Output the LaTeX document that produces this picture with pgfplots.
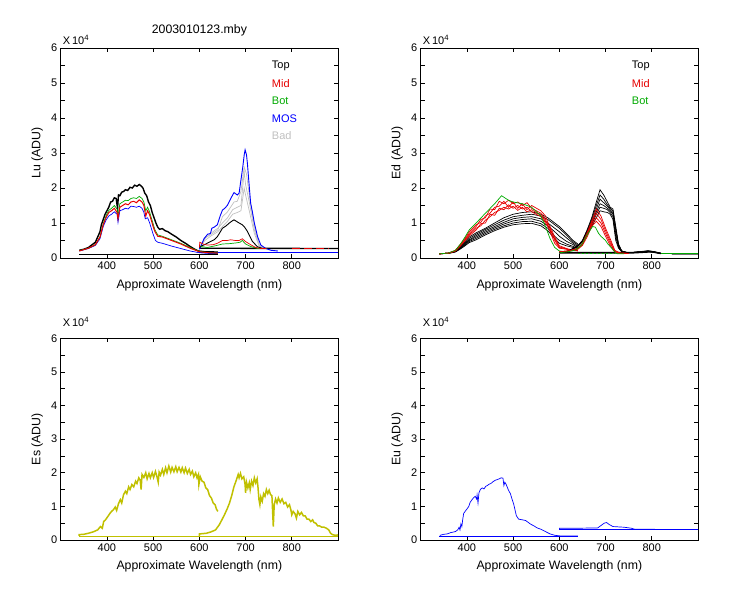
\documentclass[border=0pt]{standalone}
\usepackage{fontspec}
\setmainfont{Liberation Sans}
\usepackage{pgfplots}
\usepackage{pgfplotstable}
\pgfplotsset{compat=1.18}

\definecolor{cred}{RGB}{230,0,0}
\definecolor{cgreen}{RGB}{0,170,0}
\definecolor{cblue}{RGB}{0,0,255}
\definecolor{cgray}{RGB}{192,192,192}
\definecolor{colive}{RGB}{192,192,0}
\newcommand\fs{\fontsize{11bp}{13bp}\selectfont}
\newcommand\fl{\fontsize{12.3bp}{14bp}\selectfont}

% Ed, blue sensor, black (Top) casts
\pgfplotstableread{
x    b1   b2   b3   b4   b5   b6
340  0.12 0.12 0.12 0.12 0.12 0.12
360  0.14 0.14 0.14 0.14 0.13 0.13
375  0.20 0.20 0.19 0.18 0.18 0.17
385  0.32 0.30 0.28 0.27 0.26 0.25
395  0.45 0.42 0.40 0.38 0.36 0.34
405  0.60 0.56 0.52 0.50 0.47 0.44
420  0.72 0.68 0.64 0.60 0.56 0.52
440  0.85 0.82 0.78 0.74 0.70 0.66
460  1.00 0.95 0.90 0.86 0.82 0.78
480  1.15 1.08 1.02 0.97 0.92 0.88
500  1.25 1.18 1.12 1.06 1.00 0.95
520  1.30 1.22 1.16 1.10 1.04 0.98
540  1.32 1.25 1.18 1.12 1.05 0.99
560  1.25 1.20 1.12 1.05 0.98 0.92
575  1.15 1.10 1.00 0.92 0.85 0.78
590  1.00 0.95 0.85 0.75 0.62 0.55
600  0.90 0.85 0.75 0.62 0.50 0.42
615  0.70 0.66 0.58 0.48 0.40 0.35
630  0.50 0.46 0.42 0.38 0.33 0.30
640  0.40 0.37 0.33 0.30 0.28 0.26
}\EdAblack

% Ed, blue sensor, red (Mid) casts
\pgfplotstableread{
x    r1   r2   r3   r4
340  0.12 0.12 0.12 0.12
360  0.14 0.14 0.14 0.13
375  0.22 0.21 0.20 0.20
385  0.38 0.36 0.34 0.33
395  0.55 0.52 0.50 0.48
405  0.75 0.70 0.66 0.63
420  0.95 0.90 0.85 0.80
430  1.02 1.10 0.92 0.98
440  1.20 1.15 1.08 1.00
450  1.28 1.40 1.18 1.25
460  1.45 1.38 1.30 1.22
470  1.48 1.62 1.36 1.42
480  1.62 1.55 1.45 1.38
490  1.45 1.65 1.40 1.52
500  1.60 1.55 1.48 1.42
510  1.42 1.60 1.36 1.50
520  1.55 1.50 1.45 1.40
530  1.38 1.58 1.32 1.45
540  1.50 1.42 1.38 1.32
560  1.35 1.28 1.22 1.18
570  1.20 1.10 1.05 1.00
580  0.85 0.75 0.90 0.80
590  0.50 0.42 0.60 0.55
600  0.30 0.28 0.35 0.32
620  0.25 0.24 0.25 0.24
640  0.22 0.21 0.22 0.20
}\EdAred

% Ed, red sensor, black (Top) casts
\pgfplotstableread{
x    k1   k2   k3   k4   k5   k6
600  0.15 0.15 0.15 0.15 0.15 0.15
620  0.20 0.20 0.20 0.20 0.20 0.20
640  0.35 0.35 0.35 0.34 0.34 0.33
650  0.50 0.50 0.49 0.48 0.47 0.46
660  0.80 0.78 0.75 0.72 0.70 0.67
670  1.15 1.10 1.05 1.00 0.95 0.90
680  1.60 1.50 1.40 1.32 1.25 1.15
688  1.95 1.80 1.68 1.55 1.45 1.35
696  1.80 1.68 1.58 1.50 1.42 1.32
704  1.60 1.52 1.48 1.42 1.38 1.30
710  1.45 1.42 1.38 1.35 1.30 1.25
716  1.40 1.35 1.30 1.25 1.18 1.10
722  0.90 0.85 0.80 0.70 0.60 0.50
728  0.40 0.38 0.35 0.32 0.30 0.28
735  0.20 0.20 0.20 0.19 0.18 0.18
745  0.16 0.16 0.16 0.16 0.16 0.16
760  0.16 0.16 0.16 0.16 0.16 0.16
780  0.19 0.18 0.18 0.18 0.17 0.17
792  0.21 0.20 0.20 0.19 0.19 0.18
805  0.18 0.18 0.17 0.17 0.16 0.16
820  0.13 0.13 0.13 0.13 0.13 0.13
860  0.12 0.12 0.12 0.12 0.12 0.12
900  0.12 0.12 0.12 0.12 0.12 0.12
}\EdBblack

% Ed, red sensor, red (Mid) casts
\pgfplotstableread{
x    r1   r2   r3   r4
600  0.18 0.18 0.18 0.18
620  0.20 0.20 0.20 0.20
640  0.28 0.27 0.26 0.25
650  0.42 0.40 0.38 0.36
660  0.72 0.68 0.64 0.60
670  1.05 1.00 0.95 0.90
680  1.40 1.28 1.15 1.05
690  1.20 1.10 1.00 0.90
700  0.85 0.78 0.70 0.62
710  0.55 0.48 0.42 0.36
720  0.22 0.20 0.18 0.17
730  0.15 0.14 0.14 0.13
750  0.13 0.13 0.13 0.13
}\EdBred

\pgfplotsset{
  panel/.style={
    scale only axis, width=277.3bp,
    xmin=300, xmax=900, ymin=0, ymax=6,
    xtick={400,500,600,700,800},
    ytick={0,1,2,3,4,5,6},
    minor ytick={0.5,1.5,2.5,3.5,4.5,5.5},
    major tick length=4bp, minor tick length=4bp,
    tick style={black, line width=0.8bp},
    axis line style={line width=0.8bp},
    tick label style={font=\fs},
    label style={font=\fl},
    /pgf/number format/assume math mode=true,
    xlabel={Approximate Wavelength (nm)},
    every axis plot/.append style={line width=0.7bp, mark=none},
  },
  toprow/.style={panel, height=210bp,
    xlabel style={at={(axis description cs:0.5,-0.132)}, anchor=center},
    ylabel style={at={(axis description cs:-0.085,0.5)}, anchor=center}},
  botrow/.style={panel, height=201.7bp,
    xlabel style={at={(axis description cs:0.5,-0.132)}, anchor=center},
    ylabel style={at={(axis description cs:-0.085,0.5)}, anchor=center}},
}

\begin{document}
\begin{tikzpicture}
\path[use as bounding box] (0,0) rectangle (750bp,600bp);

% ---------------- Lu ----------------
\begin{axis}[toprow, at={(60.7bp,342bp)}, anchor=south west, ylabel={Lu (ADU)}]
% baselines
\addplot[black, line width=1.2bp] coordinates {(340,0.11) (640,0.11)};
\addplot[black, line width=1.4bp] coordinates {(600,0.28) (900,0.27)};
\addplot[cblue] coordinates {(600,0.15) (900,0.15)};
% blue sensor
\addplot[black, line width=1.4bp] coordinates {
(340,0.22)(350,0.25)(360,0.3)(370,0.4)(375,0.45)(380,0.6)(385,0.75)(388,0.95)(392,1.1)
(396,1.25)(400,1.35)(404,1.45)(408,1.6)(412,1.62)(416,1.72)(420,1.7)(423,1.42)(425,1.8)
(428,1.78)(432,1.88)(436,1.9)(440,1.95)(445,1.93)(450,2.02)(455,2.0)(460,2.08)(465,2.05)
(470,2.1)(474,2.06)(478,2.0)(482,1.85)(486,1.78)(490,1.6)(494,1.5)(498,1.3)(502,1.15)
(506,1.0)(510,0.88)(514,0.82)(520,0.84)(526,0.78)(532,0.75)(540,0.68)(550,0.6)(560,0.5)
(570,0.42)(580,0.33)(590,0.25)(598,0.2)(610,0.18)(640,0.17)};
\addplot[cblue] coordinates {
(340,0.2)(360,0.27)(375,0.36)(385,0.55)(392,0.9)(398,1.08)(404,1.2)(410,1.25)(416,1.32)
(422,1.25)(424,1.02)(428,1.35)(434,1.38)(440,1.42)(446,1.4)(452,1.48)(458,1.47)(464,1.45)
(470,1.48)(476,1.42)(480,1.3)(483,1.12)(488,1.15)(492,1.02)(496,0.85)(500,0.68)(505,0.5)
(510,0.45)(520,0.42)(530,0.38)(540,0.34)(560,0.27)(580,0.2)(600,0.15)(620,0.13)(640,0.13)};
\addplot[cgreen] coordinates {
(340,0.21)(360,0.28)(375,0.38)(385,0.6)(392,0.98)(398,1.2)(404,1.36)(410,1.42)(416,1.5)
(422,1.4)(424,1.2)(428,1.55)(434,1.6)(440,1.65)(446,1.64)(452,1.7)(458,1.72)(464,1.7)
(470,1.76)(476,1.7)(480,1.6)(484,1.35)(488,1.45)(492,1.33)(496,1.15)(500,0.98)(504,0.8)
(510,0.66)(520,0.62)(530,0.57)(540,0.52)(560,0.42)(580,0.3)(600,0.19)(620,0.15)(640,0.14)};
\addplot[cred, line width=1bp] coordinates {
(340,0.2)(360,0.28)(375,0.38)(385,0.6)(392,0.95)(398,1.15)(404,1.3)(410,1.35)(416,1.42)
(422,1.3)(424,1.12)(428,1.45)(434,1.5)(440,1.55)(446,1.52)(452,1.6)(458,1.62)(464,1.58)
(470,1.66)(476,1.6)(480,1.5)(484,1.2)(488,1.35)(492,1.25)(496,1.08)(500,0.9)(504,0.75)
(510,0.62)(520,0.6)(530,0.55)(540,0.5)(560,0.4)(580,0.28)(600,0.18)(620,0.15)(640,0.14)};
% red sensor
\addplot[cgray] coordinates {
(600,0.3)(612,0.5)(624,0.62)(640,0.75)(650,0.9)(661,1.05)(672,1.25)(682,1.3)(690,1.35)
(697,2.0)(700,1.8)(708,1.35)(719,0.7)(730,0.32)(745,0.27)};
\addplot[cgray] coordinates {
(600,0.3)(612,0.55)(624,0.7)(640,0.85)(650,1.0)(661,1.15)(672,1.38)(682,1.45)(690,1.5)
(697,2.47)(700,2.1)(708,1.6)(719,0.8)(730,0.34)(745,0.27)};
\addplot[cgray] coordinates {
(600,0.3)(612,0.58)(624,0.66)(640,0.8)(650,1.18)(661,1.32)(675,1.6)(682,1.62)(690,1.9)
(697,2.6)(702,2.4)(708,1.8)(719,0.9)(730,0.36)(745,0.27)};
\addplot[cblue, line width=0.9bp] coordinates {
(600,0.25)(603,0.32)(610,0.55)(618,0.68)(624,0.7)(627,0.85)(632,0.88)(639,0.95)(645,1.2)
(650,1.37)(655,1.42)(661,1.51)(668,1.7)(675,1.87)(682,1.8)(686,1.85)(690,2.23)(694,2.6)
(697,2.94)(699,3.09)(702,2.95)(704,2.7)(708,2.04)(711,1.57)(715,1.3)(719,1.0)(726,0.61)
(733,0.37)(744,0.27)(755,0.22)(770,0.2)};
\addplot[black, line width=0.9bp] coordinates {
(600,0.3)(603,0.33)(614,0.4)(624,0.47)(632,0.52)(639,0.61)(650,0.85)(658,0.92)(665,1.0)
(670,1.05)(675,1.09)(680,1.05)(686,1.0)(693,0.95)(698,0.88)(704,0.76)(710,0.6)(715,0.47)
(726,0.32)(735,0.28)(745,0.27)};
\addplot[cgreen] coordinates {
(603,0.33)(617,0.3)(635,0.35)(650,0.4)(665,0.41)(679,0.43)(688,0.45)(693,0.5)(700,0.4)
(711,0.33)(726,0.27)(745,0.27)};
\addplot[cred] coordinates {
(600,0.3)(601,0.45)(608,0.4)(617,0.37)(630,0.38)(639,0.42)(650,0.5)(660,0.5)(668,0.52)
(678,0.5)(686,0.5)(693,0.55)(700,0.47)(711,0.38)(722,0.3)(733,0.27)(745,0.27)};
\addplot[cred, dash pattern=on 8bp off 4bp] coordinates {(800,0.27) (880,0.27)};
\node[anchor=west, font=\fs, text=black] at (axis description cs:0.749,0.916) {Top};
\node[anchor=west, font=\fs, text=cred] at (axis description cs:0.749,0.832) {Mid};
\node[anchor=west, font=\fs, text=cgreen] at (axis description cs:0.749,0.749) {Bot};
\node[anchor=west, font=\fs, text=cblue] at (axis description cs:0.749,0.665) {MOS};
\node[anchor=west, font=\fs, text=cgray] at (axis description cs:0.749,0.582) {Bad};
\end{axis}
\node[font=\fs, anchor=south west, inner sep=0pt] at (62.7bp,555bp) {X\,10\textsuperscript{4}};
\node[font=\fl] at (199.4bp,570bp) {2003010123.mby};

% ---------------- Ed ----------------
\begin{axis}[toprow, at={(420.7bp,342bp)}, anchor=south west, ylabel={Ed (ADU)}]
\foreach \c in {b1,b2,b3,b4,b5,b6}{
  \addplot[black] table[x=x, y=\c] {\EdAblack};
}
\foreach \c in {r1,r2,r3,r4}{
  \addplot[cred] table[x=x, y=\c] {\EdAred};
}
\addplot[cgreen] coordinates {
(340,0.12)(360,0.14)(375,0.22)(385,0.38)(395,0.58)(405,0.8)(420,1.0)(440,1.28)(460,1.55)
(475,1.78)(490,1.65)(500,1.6)(520,1.55)(540,1.45)(560,1.2)(570,0.9)(580,0.55)(590,0.3)
(600,0.2)(620,0.17)(640,0.15)};
\foreach \c in {k1,k2,k3,k4,k5,k6}{
  \addplot[black] table[x=x, y=\c] {\EdBblack};
}
\addplot[black, line width=1.6bp] coordinates {(600,0.15)(640,0.15)(745,0.15)(760,0.15)(800,0.18)(820,0.13)};
\foreach \c in {r1,r2,r3,r4}{
  \addplot[cred] table[x=x, y=\c] {\EdBred};
}
\addplot[cgreen] coordinates {
(600,0.15)(620,0.18)(635,0.23)(648,0.37)(660,0.66)(672,0.9)(678,0.88)(685,0.7)(690,0.62)
(700,0.5)(705,0.4)(712,0.3)(718,0.2)(725,0.12)(740,0.12)};
\addplot[cgreen, dash pattern=on 2bp off 2bp] coordinates {(640,0.12) (720,0.12)};
\addplot[cgreen] coordinates {(820,0.12) (900,0.12)};
\node[anchor=west, font=\fs, text=black] at (axis description cs:0.749,0.916) {Top};
\node[anchor=west, font=\fs, text=cred] at (axis description cs:0.749,0.832) {Mid};
\node[anchor=west, font=\fs, text=cgreen] at (axis description cs:0.749,0.749) {Bot};
\end{axis}
\node[font=\fs, anchor=south west, inner sep=0pt] at (422.7bp,555bp) {X\,10\textsuperscript{4}};

% ---------------- Es ----------------
\begin{axis}[botrow, at={(60.7bp,60bp)}, anchor=south west, ylabel={Es (ADU)}]
\addplot[colive] coordinates {(340,0.12) (900,0.12)};
\addplot[colive, line width=1.5bp] coordinates {
(340,0.12)(340,0.16)(350,0.17)(360,0.2)(370,0.24)(380,0.3)(386,0.4)(390,0.35)(393,0.55)
(397,0.6)(400,0.66)(403,0.72)(407,0.8)(410,0.85)(414,0.9)(418,0.98)(421,0.88)(425,1.08)
(429,1.2)(432,1.1)(436,1.35)(440,1.45)(443,1.38)(447,1.58)(450,1.5)(454,1.65)(458,1.58)
(462,1.75)(465,1.68)(469,1.85)(472,1.78)(474,1.5)(476,1.95)(480,1.86)(484,2.0)(487,1.82)
(491,1.98)(494,1.85)(498,2.0)(501,1.86)(505,2.04)(508,1.9)(511,1.72)(513,2.02)(516,1.93)
(520,2.1)(523,1.95)(527,2.15)(530,2.0)(534,2.2)(538,2.02)(541,2.16)(545,2.03)(549,2.18)
(552,2.03)(556,2.16)(560,2.02)(563,2.15)(567,2.0)(570,2.14)(574,1.98)(578,2.1)(581,1.95)
(585,2.05)(588,1.88)(592,2.0)(595,1.85)(598,1.95)(599,1.65)(602,1.88)(606,1.75)(610,1.72)
(614,1.55)(618,1.5)(622,1.32)(626,1.25)(630,1.1)(634,1.05)(637,0.92)(640,0.85)};
\addplot[colive, line width=1.5bp] coordinates {
(600,0.12)(600,0.18)(615,0.2)(625,0.24)(635,0.3)(643,0.45)(648,0.58)(654,0.74)(660,0.92)
(665,1.09)(670,1.32)(675,1.59)(680,1.78)(684,1.95)(686,1.85)(689,1.98)(692,1.82)(696,1.88)
(699,1.65)(700,1.4)(702,1.72)(705,1.55)(708,1.7)(710,1.5)(713,1.75)(716,1.62)(719,1.85)
(722,1.7)(725,1.82)(727,1.55)(729,1.2)(731,1.05)(733,1.28)(736,1.15)(739,1.38)(742,1.3)
(745,1.5)(748,1.38)(751,1.48)(754,1.35)(757,1.32)(760,0.4)(762,1.05)(765,1.22)(768,1.1)
(771,1.25)(775,1.12)(779,1.22)(783,1.08)(787,1.12)(791,0.98)(795,1.05)(798,0.9)(800,0.75)
(803,0.85)(807,0.78)(810,0.65)(813,0.85)(817,0.75)(821,0.82)(825,0.72)(829,0.72)(833,0.62)
(837,0.62)(841,0.55)(845,0.6)(848,0.52)(852,0.5)(856,0.42)(860,0.42)(865,0.38)(870,0.38)
(875,0.35)(880,0.3)(884,0.2)(888,0.16)(894,0.14)(900,0.15)};
\end{axis}
\node[font=\fs, anchor=south west, inner sep=0pt] at (62.7bp,273bp) {X\,10\textsuperscript{4}};

% ---------------- Eu ----------------
\begin{axis}[botrow, at={(420.7bp,60bp)}, anchor=south west, ylabel={Eu (ADU)}]
\addplot[cblue] coordinates {(340,0.12) (640,0.12)};
\addplot[cblue] coordinates {(600,0.31) (900,0.31)};
\addplot[cblue] coordinates {
(342,0.1)(342,0.14)(350,0.17)(357,0.18)(365,0.22)(375,0.25)(380,0.3)(383,0.38)(385,0.3)
(387,0.48)(389,0.4)(391,0.62)(393,0.79)(396,0.85)(400,0.92)(404,1.0)(407,1.12)(411,1.2)
(414,1.25)(418,1.3)(421,1.22)(422,1.34)(424,1.1)(426,1.4)(429,1.5)(433,1.55)(437,1.52)
(441,1.6)(444,1.62)(448,1.66)(452,1.68)(455,1.72)(458,1.75)(462,1.78)(466,1.8)(470,1.82)
(474,1.85)(478,1.84)(480,1.62)(482,1.72)(485,1.65)(487,1.58)(490,1.48)(494,1.38)
(498,1.2)(501,1.08)(504,0.9)(507,0.72)(512,0.62)(520,0.6)(527,0.58)(533,0.52)(538,0.47)
(545,0.42)(552,0.36)(560,0.32)(570,0.25)(580,0.18)(590,0.14)(603,0.12)(640,0.12)};
\addplot[cblue] coordinates {
(600,0.31)(600,0.35)(640,0.35)(683,0.36)(690,0.43)(697,0.5)(702,0.52)(708,0.46)(716,0.4)
(740,0.38)(756,0.35)(763,0.32)(900,0.31)};
\end{axis}
\node[font=\fs, anchor=south west, inner sep=0pt] at (422.7bp,273bp) {X\,10\textsuperscript{4}};
\end{tikzpicture}
\end{document}
